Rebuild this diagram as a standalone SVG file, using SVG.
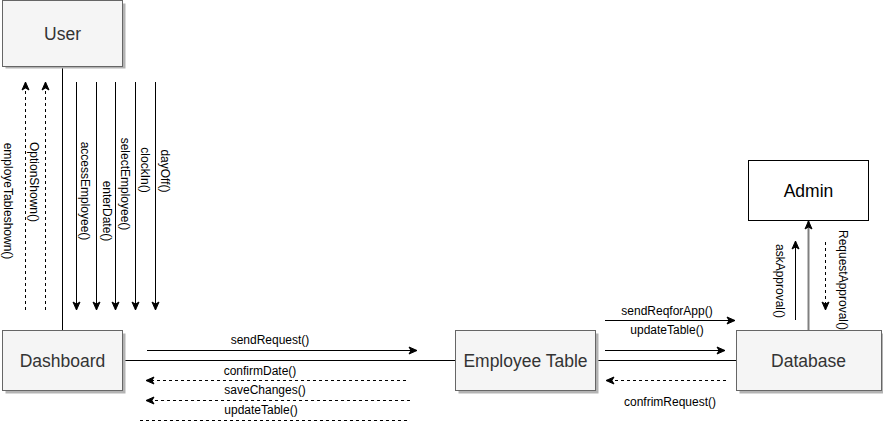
<svg xmlns="http://www.w3.org/2000/svg" width="883" height="443" viewBox="0 0 883 443">
<defs>
<marker id="arr" markerUnits="userSpaceOnUse" markerWidth="10" markerHeight="10" viewBox="0 0 10 10" refX="9" refY="5" orient="auto">
<path d="M1,1.5 L9,5 L1,8.5 L3,5 Z" fill="#000" stroke="#000" stroke-width="1"/>
</marker>
<style>
.box{fill:#f5f5f5;stroke:#666666;stroke-width:1}
.shadow{fill:#b3b3b3}
.btxt{font-family:"Liberation Sans",Arial,sans-serif;font-size:17.5px;fill:#333333;text-anchor:middle;dominant-baseline:central}
.lbl{font-family:"Liberation Sans",Arial,sans-serif;font-size:12px;fill:#000;text-anchor:middle;dominant-baseline:central}
.ln{stroke:#000;stroke-width:1;fill:none}
.solid{stroke:#000;stroke-width:1;fill:none;marker-end:url(#arr)}
.dash{stroke:#000;stroke-width:1;fill:none;stroke-dasharray:3 3;marker-end:url(#arr)}
.dashn{stroke:#000;stroke-width:1;fill:none;stroke-dasharray:3 3}
</style>
</defs>
<rect width="883" height="443" fill="#ffffff"/>
<g id="connectors">
<line class="ln" x1="62.5" y1="66.5" x2="62.5" y2="330.5"/>
<line class="ln" x1="122.5" y1="360.5" x2="455.5" y2="360.5"/>
<line class="ln" x1="595.5" y1="360.5" x2="736.5" y2="360.5"/>
<line x1="808.5" y1="330.5" x2="808.5" y2="221" stroke="#808080" stroke-width="2" marker-end="url(#arr)"/>
<line class="dash" x1="25.5" y1="310" x2="25.5" y2="82"/>
<line class="dash" x1="45.5" y1="310" x2="45.5" y2="82"/>
<line class="solid" x1="76.5" y1="82" x2="76.5" y2="310"/>
<line class="solid" x1="96.5" y1="82" x2="96.5" y2="310"/>
<line class="solid" x1="115.5" y1="82" x2="115.5" y2="310"/>
<line class="solid" x1="135.5" y1="82" x2="135.5" y2="310"/>
<line class="solid" x1="155.5" y1="82" x2="155.5" y2="310"/>
<line class="solid" x1="147" y1="350.5" x2="417" y2="350.5"/>
<line class="dash" x1="406" y1="380.5" x2="146" y2="380.5"/>
<line class="dash" x1="410" y1="400.5" x2="146" y2="400.5"/>
<line class="dashn" x1="140" y1="420.5" x2="407" y2="420.5"/>
<line class="solid" x1="605" y1="320.5" x2="735" y2="320.5"/>
<line class="solid" x1="605" y1="350.5" x2="725" y2="350.5"/>
<line class="dash" x1="726" y1="380.5" x2="606" y2="380.5"/>
<line class="solid" x1="795.5" y1="320" x2="795.5" y2="241"/>
<line class="dash" x1="825.5" y1="242" x2="825.5" y2="310"/>
<text class="lbl" transform="rotate(90 8 201)" x="8" y="201">employeTableshown()</text>
<text class="lbl" transform="rotate(90 34 182)" x="34" y="182">OptionShown()</text>
<text class="lbl" transform="rotate(90 85 191)" x="85" y="191">accessEmployee()</text>
<text class="lbl" transform="rotate(90 107 211)" x="107" y="211">enterDate()</text>
<text class="lbl" transform="rotate(90 125 184)" x="125" y="184">selectEmployee()</text>
<text class="lbl" transform="rotate(90 145 170)" x="145" y="170">clockIn()</text>
<text class="lbl" transform="rotate(90 165 171)" x="165" y="171">dayOff()</text>
<text class="lbl" x="270" y="340">sendRequest()</text>
<text class="lbl" x="260" y="371">confirmDate()</text>
<text class="lbl" x="265" y="390">saveChanges()</text>
<text class="lbl" x="261" y="410">updateTable()</text>
<text class="lbl" x="667" y="311">sendReqforApp()</text>
<text class="lbl" x="667" y="330">updateTable()</text>
<text class="lbl" x="670" y="402">confrimRequest()</text>
<text class="lbl" transform="rotate(90 780 281)" x="780" y="281">askApproval()</text>
<text class="lbl" transform="rotate(90 843 280)" x="843" y="280">RequestApproval()</text>
</g>
<g id="user">
<rect class="shadow" x="5.5" y="3.5" width="120" height="65"/>
<rect class="box" x="2.5" y="0.5" width="120" height="66"/>
<text class="btxt" x="62.5" y="33.5">User</text>
</g>
<g id="dashboard">
<rect class="shadow" x="5.5" y="333.5" width="120" height="60"/>
<rect class="box" x="2.5" y="330.5" width="120" height="60"/>
<text class="btxt" x="62.5" y="360.5">Dashboard</text>
</g>
<g id="employee-table">
<rect class="shadow" x="458.5" y="333.5" width="140" height="60"/>
<rect class="box" x="455.5" y="330.5" width="140" height="60"/>
<text class="btxt" x="525.5" y="360.5">Employee Table</text>
</g>
<g id="database">
<rect class="shadow" x="739.5" y="333.5" width="145" height="60"/>
<rect class="box" x="736.5" y="330.5" width="145" height="60"/>
<text class="btxt" x="808.5" y="360.5">Database</text>
</g>
<g id="admin">
<rect x="748.5" y="160.5" width="120" height="60" fill="#ffffff" stroke="#000" stroke-width="1"/>
<text class="btxt" x="808.5" y="190.5" style="fill:#000">Admin</text>
</g>
</svg>
